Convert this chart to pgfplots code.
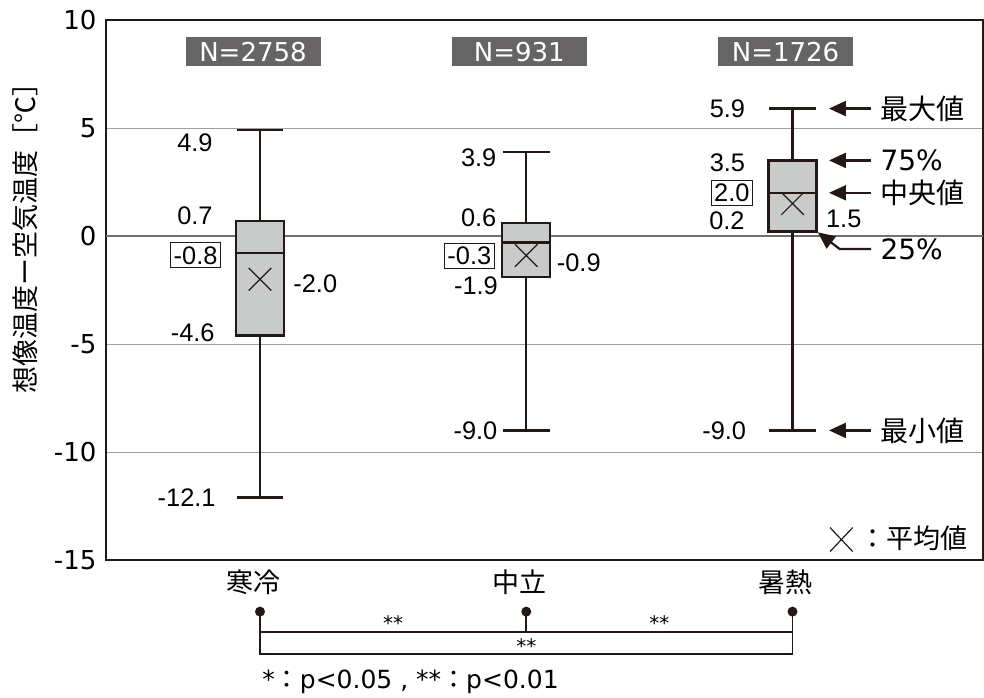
\documentclass[border=0pt]{standalone}
\usepackage{pgfplots}
\pgfplotsset{compat=1.18}
\usepgfplotslibrary{statistics}
\usetikzlibrary{arrows.meta}
\usepackage{fontspec}
\setmainfont{Liberation Sans}
\newfontfamily\wide{DejaVu Sans}
\newfontfamily\jp{Noto Sans CJK JP}

\definecolor{ink}{HTML}{231815}
\definecolor{boxfill}{HTML}{C9CACA}
\definecolor{gridgray}{HTML}{9FA0A0}
\definecolor{zerogray}{HTML}{727171}
\definecolor{tagfill}{HTML}{666464}

\newcommand\fs[1]{\fontsize{#1}{#1}\selectfont}

\begin{document}
\begin{tikzpicture}[
  lbl/.style={font=\fs{12.7}, inner sep=0pt},
  tag/.style={lbl, draw=ink, line width=0.5pt, fill=white, inner xsep=1.5pt, inner ysep=1.8pt},
  ntag/.style={fill=tagfill, text=white, font=\wide\fs{13}, minimum width=67.5pt, minimum height=14.5pt, inner sep=0pt, xshift=-3.5pt},
  note/.style={anchor=west, inner sep=0pt},
  arr/.style={ink, line width=1.1pt, -{Triangle[length=8.5pt,width=7.5pt]}},
]
\useasboundingbox (0,0) rectangle (492pt,348.5pt);
\begin{axis}[
  at={(53pt,68.5pt)}, anchor=south west,
  scale only axis, width=438.5pt, height=270pt,
  xmin=0.4216, xmax=3.7155, ymin=-15, ymax=10,
  xtick={1,2,3}, xticklabels={寒冷,中立,暑熱},
  ytick={-15,-10,-5,0,5,10}, yticklabels={-15,-10,-5,0,5,10},
  major tick length=0pt,
  xticklabel style={font=\jp\fs{13.5}, anchor=center, yshift=-11pt, xshift=-3.5pt},
  yticklabel style={font=\wide\fs{13}, anchor=east, inner sep=0pt, xshift=-4.6pt},
  ymajorgrids, grid style={gridgray, line width=0.5pt},
  extra y ticks={0}, extra y tick labels={},
  extra y tick style={grid style={zerogray, line width=1pt}},
  axis line style={ink, line width=1.1pt},
  clip=false,
  boxplot/draw direction=y,
  boxplot/box extend=0.18, boxplot/whisker extend=0.175,
]
% five-number summaries
\addplot[ink, line width=1.2pt, fill=boxfill, boxplot prepared={draw position=1,
  lower whisker=-12.1, lower quartile=-4.6, median=-0.8, upper quartile=0.7, upper whisker=4.9}] coordinates {};
\addplot[ink, line width=1.2pt, fill=boxfill, boxplot prepared={draw position=2,
  lower whisker=-9.0, lower quartile=-1.9, median=-0.3, upper quartile=0.6, upper whisker=3.9}] coordinates {};
\addplot[ink, line width=1.2pt, fill=boxfill, boxplot prepared={draw position=3,
  lower whisker=-9.0, lower quartile=0.2, median=2.0, upper quartile=3.5, upper whisker=5.9}] coordinates {};
% means
\addplot[only marks, mark=x, mark size=8pt, mark options={ink, line width=0.6pt}]
  coordinates {(1,-2.0) (2,-0.9) (3,1.5)};

% sample sizes
\node[ntag] at (axis cs:1,8.54) {N=2758};
\node[ntag] at (axis cs:2,8.54) {N=931};
\node[ntag] at (axis cs:3,8.54) {N=1726};

% values: 寒冷
\node[lbl, anchor=east, xshift=-23.5pt, yshift=-6.4pt] at (axis cs:1,4.9) {4.9};
\node[lbl, anchor=east, xshift=-23.5pt, yshift=2.6pt] at (axis cs:1,0.7) {0.7};
\node[tag, anchor=east, xshift=-19.5pt, yshift=-1pt] at (axis cs:1,-0.8) {-0.8};
\node[lbl, anchor=west, xshift=16.5pt, yshift=-2.2pt] at (axis cs:1,-2.0) {-2.0};
\node[lbl, anchor=east, xshift=-22.5pt, yshift=1.3pt] at (axis cs:1,-4.6) {-4.6};
\node[lbl, anchor=east, xshift=-22pt] at (axis cs:1,-12.1) {-12.1};
% values: 中立
\node[lbl, anchor=east, xshift=-14.75pt, yshift=-2.8pt] at (axis cs:2,3.9) {3.9};
\node[lbl, anchor=east, xshift=-14.75pt, yshift=2.8pt] at (axis cs:2,0.6) {0.6};
\node[tag, anchor=east, xshift=-15.75pt, yshift=-6.6pt] at (axis cs:2,-0.3) {-0.3};
\node[lbl, anchor=east, xshift=-14pt, yshift=-4.3pt] at (axis cs:2,-1.9) {-1.9};
\node[lbl, anchor=west, xshift=15.1pt, yshift=-3.5pt] at (axis cs:2,-0.9) {-0.9};
\node[lbl, anchor=east, xshift=-14.25pt] at (axis cs:2,-9.0) {-9.0};
% values: 暑熱
\node[lbl, anchor=east, xshift=-23.5pt] at (axis cs:3,5.9) {5.9};
\node[lbl, anchor=east, xshift=-23.5pt, yshift=-1pt] at (axis cs:3,3.5) {3.5};
\node[tag, anchor=east, xshift=-19.75pt] at (axis cs:3,2.0) {2.0};
\node[lbl, anchor=east, xshift=-23.75pt, yshift=5.5pt] at (axis cs:3,0.2) {0.2};
\node[lbl, anchor=west, xshift=16.6pt, yshift=-7.5pt] at (axis cs:3,1.5) {1.5};
\node[lbl, anchor=east, xshift=-23pt] at (axis cs:3,-9.0) {-9.0};

% how to read a box
\draw[arr] (axis cs:3.295,5.9) -- (axis cs:3.137,5.9);
\node[note, font=\jp\fs{14}] at (axis cs:3.329,5.9) {最大値};
\draw[arr] (axis cs:3.295,3.5) -- (axis cs:3.137,3.5);
\node[note, font=\wide\fs{14}] at (axis cs:3.329,3.5) {75\%};
\draw[arr] (axis cs:3.295,2.0) -- (axis cs:3.137,2.0);
\node[note, font=\jp\fs{14}] at (axis cs:3.329,2.0) {中央値};
\draw[arr] (axis cs:3.295,-0.60) -- (axis cs:3.177,-0.60) -- (axis cs:3.095,0.17);
\node[note, font=\wide\fs{14}] at (axis cs:3.329,-0.60) {25\%};
\draw[arr] (axis cs:3.295,-9.0) -- (axis cs:3.137,-9.0);
\node[note, font=\jp\fs{14}] at (axis cs:3.329,-9.0) {最小値};

% mean key
\draw[ink, line width=0.6pt] (axis cs:3.141,-13.50) -- (axis cs:3.226,-14.61)
  (axis cs:3.141,-14.61) -- (axis cs:3.226,-13.50);
\node[note, font=\jp\fs{13.5}] at (axis cs:3.250,-13.98) {：平均値};

% axis title
\node[rotate=90, font=\jp\fs{13.5}] at (axis cs:0.1174,0.208) {想像温度ー空気温度［℃］};

% pairwise tests
\fill[ink] (axis cs:1,-17.39) circle[radius=2.5pt]
  (axis cs:2,-17.39) circle[radius=2.5pt]
  (axis cs:3,-17.39) circle[radius=2.5pt];
\draw[ink, line width=0.8pt] (axis cs:1,-17.39) -- (axis cs:1,-19.35) -- (axis cs:3,-19.35) -- (axis cs:3,-17.39);
\draw[ink, line width=0.8pt] (axis cs:1,-18.32) -- (axis cs:3,-18.32);
\draw[ink, line width=0.8pt] (axis cs:2,-17.39) -- (axis cs:2,-18.32);
\node[font=\wide\fs{10}, inner sep=0pt] at (axis cs:1.5,-17.90) {**};
\node[font=\wide\fs{10}, inner sep=0pt] at (axis cs:2.5,-17.90) {**};
\node[font=\wide\fs{10}, inner sep=0pt] at (axis cs:2,-18.98) {**};
\node[note, font=\wide\fs{12.5}] at (axis cs:1.0075,-20.63) {*{\jp ：}p<0.05 , **{\jp ：}p<0.01};
\end{axis}
\end{tikzpicture}
\end{document}
